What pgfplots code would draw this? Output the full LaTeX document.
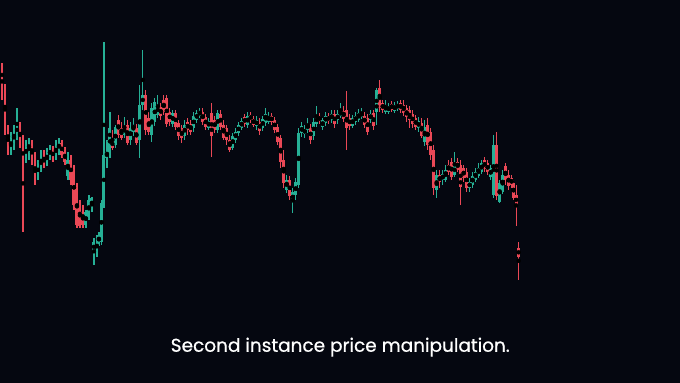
\documentclass[border=0pt]{standalone}
\usepackage{pgfplots}
\usepackage{pgfplotstable}
\usepackage{fontspec}
\setmainfont{Poppins}
\newfontfamily\capfont[FakeBold=0.6]{Poppins}
\pgfplotsset{compat=1.18}
\definecolor{bg}{RGB}{5,7,16}
\definecolor{up}{RGB}{38,176,150}
\definecolor{dn}{RGB}{234,72,86}
\pgfplotstableread{
x o h l c
1.5 65 63 100 85
4.5 86 84 135 128
7.5 128 125 155 145
10.5 150 132 155 140
13.5 142 125 150 130
16.5 135 108 140 125
19.5 125 122 148 143
22.5 147 135 232 160
25.5 158 140 163 145
28.5 150 138 160 143
31.5 143 140 165 158
34.5 160 152 185 182
37.5 175 160 180 165
40.5 168 150 172 158
43.5 158 150 168 163
46.5 163 148 166 153
49.5 155 145 160 150
52.5 150 146 162 158
55.5 156 140 160 146
58.5 150 138 155 142
61.5 143 140 158 155
64.5 152 147 165 162
67.5 176 152 180 160
70.5 160 155 185 180
73.5 170 165 210 205
76.5 188 183 228 225
79.5 205 200 228 226
82.5 212 205 228 225
85.5 225 210 228 212
88.5 217 195 220 200
91.5 208 197 212 198
93.5 252 238 265 242
96.5 248 235 257 245
98.5 243 232 246 236
101 242 200 245 203
103.5 205 42 208 155
106.5 158 140 168 152
109.5 155 112 158 128
112 140 130 150 148
115 145 125 148 127
118 120 115 138 135
121 128 122 140 138
124 135 117 138 126
127 125 120 145 143
130 140 122 145 128
133 132 118 136 125
136 128 124 145 143
139.5 140 85 158 105
142.5 105 50 110 95
145.5 95 90 135 130
148.5 118 112 135 132
151.5 135 103 142 108
154.5 122 98 126 102
157.5 115 95 118 105
160.5 107 103 120 116
163.5 100 95 115 112
166.5 98 95 127 124
169.5 112 108 126 122
172.5 124 110 127 113
175.5 113 110 130 127
178.5 123 120 140 136
181.5 128 125 143 138
184.5 136 120 140 125
187.5 122 118 135 130
190.5 124 120 135 132
193.5 128 112 132 116
196.5 120 110 123 113
199.5 116 108 118 111
202.5 112 108 125 122
205.5 117 114 130 127
208.5 128 118 130 121
211.5 113 103 157 136
214.5 120 116 133 130
217.5 130 110 133 113
220.5 114 110 130 127
223.5 125 120 140 138
226.5 128 125 145 140
229.5 140 135 152 150
232.5 148 133 150 136
235.5 140 128 143 132
238.5 133 122 136 125
241.5 128 118 130 121
244.5 117 114 127 124
247.5 125 112 128 116
250.5 115 112 123 120
253.5 119 116 127 125
256.5 126 116 130 120
259.5 122 118 135 131
262.5 128 116 131 119
265.5 123 108 126 114
268.5 122 112 124 116
271.5 116 113 125 122
274.5 120 117 133 130
277.5 127 124 145 142
280.5 138 135 168 162
283.5 160 150 188 183
286.5 190 175 193 180
289.5 180 176 200 196
292.5 202 188 213 192
295.5 195 178 200 182
298.5 185 128 188 133
301.5 133 122 137 126
304.5 134 125 138 129
307.5 130 118 133 124
310.5 128 124 144 140
313.5 136 118 140 122
316.5 124 106 127 116
319.5 116 113 124 121
322.5 127 118 130 120
325.5 123 112 126 116
328.5 116 113 124 121
331.5 120 110 123 114
334.5 114 110 128 124
337.5 120 110 124 114
340.5 116 103 118 111
343.5 111 106 122 119
346.5 110 91 150 128
349.5 118 114 130 126
352.5 126 115 128 118
355.5 122 112 125 116
358.5 120 109 122 113
361.5 117 108 119 112
364.5 116 112 128 125
367.5 118 114 135 132
370.5 120 110 123 114
373.5 113 110 130 126
376.5 112 88 125 90
379.5 88 80 112 108
382.5 103 100 113 110
385.5 112 100 114 105
388.5 112 103 114 106
391.5 104 101 112 110
394.5 111 102 113 105
397.5 109 101 111 104
400.5 103 100 113 110
403.5 105 100 116 113
406.5 108 105 122 117
409.5 110 106 128 120
412.5 114 110 128 124
415.5 118 115 130 127
418.5 128 117 132 121
421.5 123 118 138 136
424.5 142 120 146 127
427.5 125 118 150 145
430.5 132 128 160 155
433.5 150 145 195 188
436.5 190 170 198 175
439.5 175 170 188 182
442.5 180 170 185 174
445.5 180 165 182 170
448.5 165 160 175 172
451.5 162 158 180 177
454.5 175 152 177 165
457.5 162 158 172 170
460.5 165 160 205 187
463.5 168 165 182 178
466.5 172 168 192 188
469.5 188 178 192 182
472.5 185 172 188 176
475.5 180 168 182 172
478.5 176 163 178 168
481.5 172 160 174 163
484.5 160 157 172 169
487.5 163 160 175 172
490.5 177 165 180 168
493.5 195 135 198 145
496.5 145 132 200 196
499.5 202 180 203 183
502.5 192 170 194 175
505.5 166 163 185 180
508.5 175 170 190 186
511.5 178 175 188 185
513.5 183 180 200 198
516 195 185 226 205
518.5 248 242 280 257
}\candles
\begin{document}
\begin{tikzpicture}
\fill[bg] (0,0) rectangle (680bp,383bp);
\begin{axis}[
  at={(0,0)}, anchor=south west,
  scale only axis, width=680bp, height=383bp,
  xmin=0, xmax=680, ymin=0, ymax=383, y dir=reverse,
  hide axis, clip=true,
]
% wicks
\addplot[only marks, mark=none,
  restrict expr to domain={\thisrow{o}-\thisrow{c}}{0.1:1000},
  error bars/.cd, y dir=both, y explicit, error mark=none,
  error bar style={draw=up, line width=1.2bp}]
  table[x=x, y expr={(\thisrow{h}+\thisrow{l})/2}, y error expr={(\thisrow{l}-\thisrow{h})/2}] {\candles};
\addplot[only marks, mark=none,
  restrict expr to domain={\thisrow{c}-\thisrow{o}}{0.1:1000},
  error bars/.cd, y dir=both, y explicit, error mark=none,
  error bar style={draw=dn, line width=1.2bp}]
  table[x=x, y expr={(\thisrow{h}+\thisrow{l})/2}, y error expr={(\thisrow{l}-\thisrow{h})/2}] {\candles};
% bodies
\addplot[only marks, mark=none,
  restrict expr to domain={\thisrow{o}-\thisrow{c}}{0.1:1000},
  error bars/.cd, y dir=both, y explicit, error mark=none,
  error bar style={draw=up, line width=2.9bp}]
  table[x=x, y expr={(\thisrow{o}+\thisrow{c})/2}, y error expr={abs(\thisrow{c}-\thisrow{o})/2}] {\candles};
\addplot[only marks, mark=none,
  restrict expr to domain={\thisrow{c}-\thisrow{o}}{0.1:1000},
  error bars/.cd, y dir=both, y explicit, error mark=none,
  error bar style={draw=dn, line width=2.9bp}]
  table[x=x, y expr={(\thisrow{o}+\thisrow{c})/2}, y error expr={abs(\thisrow{c}-\thisrow{o})/2}] {\candles};
\node[anchor=base, text=white, font=\capfont\fontsize{18.5bp}{22bp}\selectfont, inner sep=0pt] at (axis cs:340,352) {Second instance price manipulation.};
\end{axis}
\end{tikzpicture}
\end{document}
